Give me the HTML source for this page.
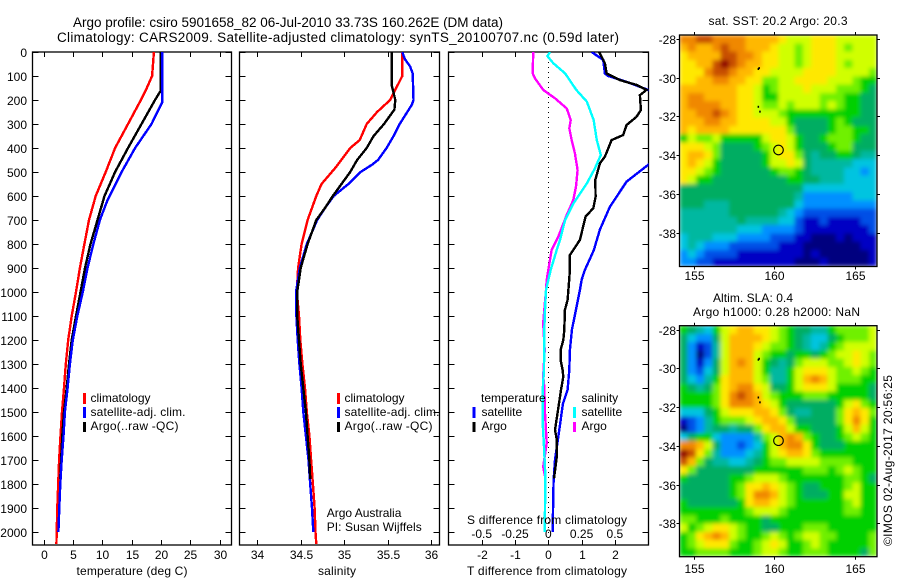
<!DOCTYPE html>
<html>
<head>
<meta charset="utf-8">
<title>Argo profile</title>
<style>
html,body{margin:0;padding:0;background:#fff;}
svg{display:block;}
text{font-family:"Liberation Sans",sans-serif;font-size:12px;fill:#000;}
.t{font-size:13.5px;}
</style>
</head>
<body>
<svg id="chart" width="900" height="580" viewBox="0 0 900 580">
<defs>
<clipPath id="clipT"><rect x="32.5" y="52" width="199" height="493"/></clipPath>
<clipPath id="clipS"><rect x="239.5" y="52" width="200" height="493"/></clipPath>
<clipPath id="clipD"><rect x="448.5" y="52" width="200" height="493"/></clipPath>
<filter id="soft" x="0" y="0" width="1" height="1"><feGaussianBlur stdDeviation="2" edgeMode="duplicate"/></filter>
</defs>
<text class="t" x="73" y="27" textLength="430">Argo profile: csiro 5901658_82 06-Jul-2010 33.73S 160.262E (DM data)</text>
<text class="t" x="57" y="42" textLength="562">Climatology: CARS2009. Satellite-adjusted climatology: synTS_20100707.nc (0.59d later)</text>

<g id="marks"></g>

<text x="132" y="575" text-anchor="middle" textLength="111">temperature (deg C)</text>
<text x="337" y="575" text-anchor="middle" textLength="38">salinity</text>
<text x="547" y="575" text-anchor="middle" textLength="160">T difference from climatology</text>
<text x="547" y="524" text-anchor="middle" textLength="160">S difference from climatology</text>

<g>
<rect x="83" y="393" width="3" height="11" fill="#f00"/><rect x="83" y="407" width="3" height="11" fill="#00f"/><rect x="83" y="422" width="3" height="10" fill="#000"/>
<text x="90.5" y="402">climatology</text>
<text x="90.5" y="416" textLength="95">satellite-adj. clim.</text>
<text x="90.5" y="430" textLength="88">Argo(..raw -QC)</text>
</g>
<g>
<rect x="337" y="393" width="3" height="11" fill="#f00"/><rect x="337" y="407" width="3" height="11" fill="#00f"/><rect x="337" y="422" width="3" height="10" fill="#000"/>
<text x="344.5" y="402">climatology</text>
<text x="344.5" y="416" textLength="95">satellite-adj. clim.</text>
<text x="344.5" y="430" textLength="88">Argo(..raw -QC)</text>
</g>
<g>
<text x="326.7" y="517">Argo Australia</text>
<text x="326.7" y="531" textLength="95">PI: Susan Wijffels</text>
</g>
<g>
<text x="481" y="402">temperature</text>
<text x="481.5" y="416">satellite</text>
<text x="481.5" y="430">Argo</text>
<rect x="472.5" y="407" width="3" height="11" fill="#00f"/><rect x="472.5" y="422" width="3" height="10" fill="#000"/>
<text x="581.5" y="402">salinity</text>
<text x="581.5" y="416">satellite</text>
<text x="581.5" y="430">Argo</text>
<rect x="573" y="407" width="3" height="11" fill="#0ff"/><rect x="573" y="422" width="3" height="10" fill="#f0f"/>
</g>

<text x="778" y="25" text-anchor="middle" textLength="139">sat. SST: 20.2 Argo: 20.3</text>
<text x="753" y="302" text-anchor="middle" textLength="80">Altim. SLA: 0.4</text>
<text x="776.5" y="316" text-anchor="middle" textLength="167">Argo h1000: 0.28 h2000: NaN</text>
<text transform="translate(892,546) rotate(-90)" textLength="171">©IMOS 02-Aug-2017 20:56:25</text>
</svg>

<script>
var depthTicks = [0,100,200,300,400,500,600,700,800,900,1000,1100,1200,1300,1400,1500,1600,1700,1800,1900,2000];
var tempTicks = [0,5,10,15,20,25,30];
var salTicks = [34,34.5,35,35.5,36];
var salTickLabels = ['34','34.5','35','35.5','36'];
var diffTTicks = [-2,-1,0,1,2];
var diffSTicks = [-0.5,-0.25,0,0.25,0.5];
var diffSTickLabels = ['-0.5','-0.25','0','0.25','0.5'];
var lonTicks = [155,160,165];
var latTicks = [-28,-30,-32,-34,-36,-38];

var tempClimDepths = [0,100,150,200,300,400,500,600,700,800,900,1000,1100,1200,1300,1400,1500,1600,1700,1800,1900,2000,2050];
var tempClim = [18.8,18.5,17.6,16.6,14.4,12.2,10.6,8.9,7.75,6.96,6.2,5.54,4.8,4.2,3.8,3.5,3.15,2.9,2.65,2.5,2.35,2.25,2.2];
var tempSatDepths = [0,210,300,400,500,617,700,800,900,1000,1100,1200,1300,1400,1500,1600,1700,1800,1900,2000];
var tempSat = [20.25,20.2,18.4,15.6,13.3,10.9,9.6,8.5,7.5,6.7,5.76,5,4.5,4.1,3.65,3.4,3.1,2.87,2.7,2.53];
var tempArgoDepths = [0,160,200,300,400,500,600,700,800,900,1000,1100,1200,1300,1400,1500,1600,1700,1780];
var tempArgo = [20,20,19,16.7,14.4,12.2,10.4,9.2,8,7.07,6.3,5.54,4.8,4.35,3.95,3.5,3.2,3,2.85];

var salClimDepths = [0,100,150,200,250,300,367,400,429,478,550,600,700,800,900,1000,1100,1200,1300,1400,1500,1600,1700,1800,1900,2000,2050];
var salClim = [35.67,35.67,35.6,35.53,35.38,35.26,35.18,35.07,35.01,34.91,34.74,34.68,34.58,34.51,34.47,34.455,34.48,34.495,34.52,34.55,34.57,34.6,34.62,34.64,34.66,34.67,34.68];
var salSatDepths = [0,30,60,90,200,220,300,350,400,450,470,500,550,600,650,700,800,900,1000,1100,1200,1300,1400,1500,1600,1700,1800,1900,2000];
var salSat = [35.67,35.7,35.76,35.79,35.8,35.78,35.64,35.57,35.49,35.39,35.32,35.19,35.05,34.88,34.78,34.69,34.57,34.49,34.446,34.45,34.465,34.485,34.51,34.53,34.56,34.59,34.61,34.63,34.645];
var salArgoDepths = [0,140,200,240,300,350,400,450,500,550,600,650,700,800,900,1000,1100,1200,1300,1400,1500,1600,1700,1780];
var salArgo = [35.55,35.55,35.59,35.58,35.46,35.34,35.26,35.15,35.07,34.97,34.87,34.78,34.68,34.58,34.5,34.46,34.46,34.48,34.5,34.53,34.56,34.58,34.6,34.61];

var dtSatDepths = [0,33,90,100,124,158,300,400,470,540,645,740,810,825,908,950,992,1075,1158,1242,1325,1408,1464,1603,1700,1783,2000];
var dtSat = [1.3,1.65,1.7,1.8,2.35,3,4,3.4,3,2.35,1.85,1.55,1.4,1.37,1.1,1,0.95,0.83,0.71,0.65,0.63,0.58,0.44,0.3,0.2,0.16,0.13];
var dtArgoDepths = [0,47,89,117,137,158,180,242,270,304,346,367,436,464,533,603,651,686,783,825,846,908,964,1033,1075,1158,1200,1242,1283,1325,1353,1408,1464,1575,1610,1680,1777];
var dtArgo = [1.53,1.7,1.75,2.15,2.65,2.95,2.75,2.78,2.65,2.35,2.25,1.9,1.7,1.55,1.41,1.42,1.35,1.12,0.95,0.75,0.65,0.65,0.62,0.58,0.5,0.48,0.45,0.37,0.37,0.43,0.45,0.38,0.32,0.2,0.25,0.26,0.17];
var dsSatDepths = [0,17,47,89,158,207,283,367,429,485,547,630,700,783,825,908,992,1075,1158,1325,1408,1547,1644,1770,2000];
var dsSat = [0.013,-0.007,0.038,0.126,0.21,0.29,0.34,0.364,0.394,0.35,0.29,0.19,0.126,0.088,0.063,0.018,-0.017,-0.025,-0.03,-0.032,-0.042,-0.042,-0.032,-0.022,-0.027];
var dsArgoDepths = [0,89,110,158,193,235,283,318,367,422,492,561,617,679,769,825,908,950,992,1075,1130,1242,1350,1395,1505,1630,1728,1780];
var dsArgo = [-0.113,-0.117,-0.1,-0.038,0.05,0.138,0.168,0.158,0.176,0.2,0.22,0.208,0.188,0.138,0.075,0.025,0,-0.012,-0.017,-0.03,-0.038,-0.027,-0.038,-0.03,-0.025,-0.012,-0.038,-0.02];

var sstGrid = [
[12,12,13,13,12,12,12,12,11,11,11,11,10,9,9,9,10,10,10,9,9,9,9,9],
[11,12,11,11,12,13,12,12,11,11,11,10,9,9,8,9,10,10,10,9,8,9,9,9],
[10,11,11,11,11,13,13,12,12,11,10,10,9,9,8,9,10,10,10,9,9,9,9,9],
[10,10,11,11,13,14,13,12,11,11,10,10,9,9,8,9,10,10,10,9,8,9,9,9],
[10,10,10,12,13,13,12,11,11,10,10,9,9,9,9,10,10,10,10,9,9,9,9,8],
[10,10,11,11,12,12,11,11,10,10,8,8,9,9,10,10,10,10,9,9,9,8,7,7],
[11,11,11,11,11,11,11,10,10,9,7,8,9,9,9,10,9,9,9,8,8,8,7,6],
[11,12,12,11,11,11,11,10,10,9,7,7,9,9,9,9,9,8,8,8,7,7,6,6],
[11,12,12,12,12,11,11,10,10,9,8,8,9,8,9,9,9,8,9,8,7,7,6,6],
[11,11,12,12,13,12,11,10,10,9,9,9,8,7,7,7,7,7,7,7,7,7,6,6],
[11,11,11,12,12,11,11,10,10,10,10,9,9,7,6,6,6,6,7,8,7,6,6,6],
[11,10,11,11,11,11,10,10,10,10,10,10,10,8,6,6,6,6,7,8,8,7,7,6],
[7,9,8,8,9,7,7,7,7,7,9,10,10,9,7,6,6,7,8,8,8,7,6,6],
[10,10,10,9,8,6,6,6,6,7,8,9,10,9,7,6,6,6,7,8,8,6,6,6],
[10,11,11,10,8,6,6,6,6,6,7,9,10,10,8,6,5,6,6,7,7,6,5,5],
[10,11,10,9,7,6,6,6,6,6,7,9,9,10,9,6,5,5,5,5,5,4,4,4],
[10,10,9,8,7,6,6,6,6,6,6,7,8,8,7,6,5,5,5,5,4,4,3,4],
[10,9,7,7,6,6,6,6,6,6,6,6,6,7,7,6,6,5,5,5,4,4,4,4],
[6,6,6,6,6,6,6,6,6,6,6,6,6,6,6,4,4,4,4,4,4,4,4,4],
[6,6,6,6,6,6,6,6,6,6,6,6,6,6,5,3,3,3,3,3,3,4,4,4],
[6,6,6,5,5,5,6,6,6,6,6,6,6,6,4,3,3,3,3,3,3,3,3,3],
[5,5,5,5,5,5,6,6,6,6,6,6,5,4,3,2,2,2,2,2,2,2,2,2],
[5,5,5,5,5,5,5,6,5,5,5,5,4,4,2,1,1,2,1,1,1,1,2,2],
[5,5,5,5,5,5,5,4,4,4,3,3,3,3,2,1,1,1,1,1,1,1,1,2],
[4,5,5,5,4,4,4,3,3,3,3,2,2,2,1,1,0,0,0,1,0,1,1,1],
[4,5,4,3,3,3,2,2,2,2,2,2,1,1,1,0,0,0,0,0,0,0,1,1],
[3,4,3,2,2,2,2,1,1,1,1,1,1,1,1,0,1,0,0,0,0,0,0,1],
[3,3,2,2,1,1,1,1,1,1,1,1,1,1,0,0,0,1,0,0,0,0,0,1]
];
var slaGrid = [
[7,6,5,4,7,9,10,11,11,10,10,9,8,7,6,6,5,5,7,8,8,8,8,9],
[6,4,3,3,6,9,11,11,11,11,10,9,8,7,6,5,4,4,6,7,8,8,8,9],
[6,3,1,2,5,9,11,11,11,10,9,8,8,7,6,5,4,5,7,8,9,9,9,9],
[6,3,0,2,5,9,11,11,11,9,8,7,7,6,7,7,6,7,8,9,9,10,9,8],
[6,3,1,3,6,9,11,12,11,9,7,6,5,6,8,9,9,9,8,8,9,10,9,8],
[6,3,2,4,6,9,11,11,11,9,7,5,5,7,9,10,10,10,9,8,8,9,8,7],
[6,4,3,5,7,10,11,11,11,9,8,5,5,7,9,11,12,11,9,8,8,8,7,7],
[7,6,5,6,8,10,11,12,12,10,9,6,6,7,9,10,10,10,9,7,7,7,7,6],
[7,7,7,7,8,10,12,13,12,11,9,8,7,7,7,8,8,8,7,7,7,7,7,6],
[7,7,7,7,8,10,12,12,12,11,10,9,7,6,6,6,6,6,6,7,9,10,8,7],
[4,4,4,6,7,9,10,10,10,11,11,10,8,6,5,5,6,6,6,8,10,11,10,8],
[1,2,3,5,7,8,8,8,9,10,11,11,10,8,6,6,6,6,6,8,10,12,10,7],
[0,2,3,5,6,6,5,6,6,8,10,11,11,9,7,7,6,6,6,7,9,11,9,7],
[4,6,7,7,4,3,3,3,3,5,8,9,11,12,11,8,7,6,6,7,8,9,8,7],
[12,12,11,9,6,3,3,2,3,4,7,9,11,12,12,10,7,6,6,6,7,7,7,7],
[14,13,10,8,5,3,3,3,4,5,7,9,10,11,11,10,8,7,7,7,7,7,7,7],
[13,11,8,6,5,5,4,4,5,6,7,8,8,9,9,9,9,8,8,8,8,7,7,7],
[10,8,6,6,6,6,6,6,6,7,7,7,7,7,7,8,8,8,7,8,9,8,7,7],
[7,6,6,6,6,6,7,7,8,9,9,9,8,7,7,7,7,7,7,7,8,8,7,6],
[6,6,6,6,6,6,7,8,10,10,11,10,9,8,7,6,6,7,7,7,8,9,7,7],
[6,6,6,6,6,6,7,8,10,12,12,11,9,8,7,6,6,6,7,7,9,9,7,7],
[7,6,6,6,6,6,6,7,10,11,11,10,9,8,7,7,7,7,7,7,8,9,7,7],
[7,7,7,7,7,7,7,7,8,9,9,9,8,7,7,7,7,7,7,7,8,8,7,7],
[8,8,7,7,7,8,7,7,7,7,6,7,7,7,7,7,7,7,7,7,7,7,7,7],
[9,7,8,9,10,10,9,8,7,7,6,6,7,7,7,8,8,8,7,7,7,7,7,7],
[7,8,10,11,12,11,9,8,7,7,8,9,8,7,8,9,9,8,8,7,7,7,7,8],
[7,8,9,10,10,10,8,7,7,8,9,10,9,7,7,8,9,8,7,7,7,7,7,8],
[7,7,8,8,8,8,7,7,7,8,9,9,8,7,7,8,8,8,7,7,7,7,6,8]
];
var floatLon = 160.262;
var floatLat = -33.73;
var coastLons = [159.05,159.0,159.0,159.1];
var coastLats = [-29.5,-29.55,-31.5,-31.75];

var palette = ['#00007f','#0000c4','#0050e6','#0090ff','#00c4e0','#00b8a0','#00ad62','#00d000','#70f000','#d0ff00','#ffe800','#ffb800','#f08800','#c85000','#900000'];

var NS = 'http://www.w3.org/2000/svg';
var root = document.getElementById('marks');
function add(tag, attrs, name, parent) {
  var el = document.createElementNS(NS, tag);
  for (var k in attrs) el.setAttribute(k, attrs[k]);
  
  
  (parent || root).appendChild(el);
  return el;
}
function label(x, y, str, anchor, name) {
  var t = add('text', {x: x, y: y, 'text-anchor': anchor}, name);
  t.textContent = str;
  return t;
}
var yDepth = function (d) { return 52 + 0.24 * d; };
var xTemp = function (v) { return 43.5 + 5.87 * v; };
var xSal = function (v) { return 257.3 + 86.8 * (v - 34); };
var xDT = function (v) { return 548.3 + 33.3 * v; };
var xDS = function (v) { return 548.3 + 133.2 * v; };

function series(depths, vals, xf, color, clip, name) {
  var pts = vals.map(function (v, i) { return xf(v).toFixed(1) + ',' + yDepth(depths[i]).toFixed(1); }).join(' ');
  add('polyline', {points: pts, fill: 'none', stroke: color, 'stroke-width': 2.4, 'clip-path': 'url(#' + clip + ')', 'shape-rendering': 'crispEdges'}, name);
}
function profileFrame(left, right, xf, ticks, labels, showDepth, panel) {
  depthTicks.forEach(function (d) {
    var y = Math.round(yDepth(d)) + 0.5;
    add('line', {x1: left, x2: left + 6, y1: y, y2: y, stroke: '#000'}, panel + '-depth-tick');
    add('line', {x1: right - 6, x2: right, y1: y, y2: y, stroke: '#000'}, panel + '-depth-tick-right');
    if (showDepth) label(27, y + 4.5, String(d), 'end', 'depth-tick-label');
  });
  ticks.forEach(function (t, i) {
    var x = Math.round(xf(t)) + 0.5;
    add('line', {x1: x, x2: x, y1: 545, y2: 540, stroke: '#000'}, panel + '-x-tick');
    add('line', {x1: x, x2: x, y1: 52, y2: 57, stroke: '#000'}, panel + '-x-tick-top');
    label(x, 559, labels[i], 'middle', panel + '-x-tick-label');
  });
  add('rect', {x: left, y: 52, width: right - left, height: 493, fill: 'none', stroke: '#000', 'stroke-width': 1.3}, panel + '-frame');
}
profileFrame(32.5, 231.5, xTemp, tempTicks, tempTicks.map(String), true, 'temperature');
profileFrame(239.5, 439.5, xSal, salTicks, salTickLabels, false, 'salinity');
profileFrame(448.5, 648.5, xDT, diffTTicks, diffTTicks.map(String), false, 'difference');
diffSTicks.forEach(function (s, i) {
  label(xDS(s), 538, diffSTickLabels[i], 'middle', 's-difference-tick-label');
});
add('line', {x1: 548.5, x2: 548.5, y1: 52, y2: 545, stroke: '#000', 'stroke-dasharray': '1 4'}, 'zero-line');

series(tempClimDepths, tempClim, xTemp, '#f00', 'clipT', 'temperature-climatology-line');
series(tempArgoDepths, tempArgo, xTemp, '#000', 'clipT', 'temperature-argo-line');
series(tempSatDepths, tempSat, xTemp, '#00f', 'clipT', 'temperature-satellite-line');
series(salClimDepths, salClim, xSal, '#f00', 'clipS', 'salinity-climatology-line');
series(salSatDepths, salSat, xSal, '#00f', 'clipS', 'salinity-satellite-line');
series(salArgoDepths, salArgo, xSal, '#000', 'clipS', 'salinity-argo-line');
series(dsArgoDepths, dsArgo, xDS, '#f0f', 'clipD', 'salinity-diff-argo-line');
series(dsSatDepths, dsSat, xDS, '#0ff', 'clipD', 'salinity-diff-satellite-line');
series(dtSatDepths, dtSat, xDT, '#00f', 'clipD', 'temperature-diff-satellite-line');
series(dtArgoDepths, dtArgo, xDT, '#000', 'clipD', 'temperature-diff-argo-line');

function mapPanel(grid, top, bottom, lat28, name, xLabelY) {
  var left = 679.5, right = 877;
  var rows = grid.length, cols = grid[0].length;
  var cw = (right - left) / cols, ch = (bottom - top) / rows;
  var g = add('g', {'shape-rendering': 'crispEdges', filter: 'url(#soft)'}, name + '-heatmap');
  grid.forEach(function (row, r) {
    row.forEach(function (v, c) {
      var idx = Math.max(0, Math.min(palette.length - 1, Math.round(v)));
      var w = c === cols - 1 ? cw : cw + 0.5;
      var h = r === rows - 1 ? ch : ch + 0.5;
      add('rect', {x: (left + c * cw).toFixed(2), y: (top + r * ch).toFixed(2), width: w.toFixed(2), height: h.toFixed(2), fill: palette[idx]}, name + '-cell', g);
    });
  });
  var xLon = function (lon) { return 693.5 + 16.15 * (lon - 155); };
  var yLat = function (lat) { return lat28 + (-28 - lat) * 19.37; };
  add('rect', {x: left, y: top, width: right - left, height: bottom - top, fill: 'none', stroke: '#000', 'stroke-width': 1.3}, name + '-frame');
  lonTicks.forEach(function (lon) {
    var x = Math.round(xLon(lon)) + 0.5;
    add('line', {x1: x, x2: x, y1: top - 3, y2: top, stroke: '#000'}, name + '-lon-tick-top');
    add('line', {x1: x, x2: x, y1: bottom, y2: bottom + 3, stroke: '#000'}, name + '-lon-tick');
    label(x, xLabelY, String(lon), 'middle', name + '-lon-label');
  });
  latTicks.forEach(function (lat) {
    var y = Math.round(yLat(lat)) + 0.5;
    add('line', {x1: right, x2: right + 3, y1: y, y2: y, stroke: '#000'}, name + '-lat-tick');
    add('line', {x1: left - 3, x2: left, y1: y, y2: y, stroke: '#000'}, name + '-lat-tick-left');
    label(676, y + 4.5, String(lat), 'end', name + '-lat-label');
  });
  coastLons.forEach(function (lon, i) {
    add('rect', {x: xLon(lon) - 0.5, y: yLat(coastLats[i]) - 1, width: 1.5, height: 2, fill: '#000'}, name + '-coast-dot');
  });
  add('circle', {cx: xLon(floatLon), cy: yLat(floatLat), r: 4.8, fill: 'none', stroke: '#000', 'stroke-width': 1.1}, name + '-float-marker');
}
mapPanel(sstGrid, 35, 266.5, 39, 'sst-map', 280);
mapPanel(slaGrid, 325.7, 556.7, 329.7, 'sla-map', 573);
</script>
</body>
</html>
